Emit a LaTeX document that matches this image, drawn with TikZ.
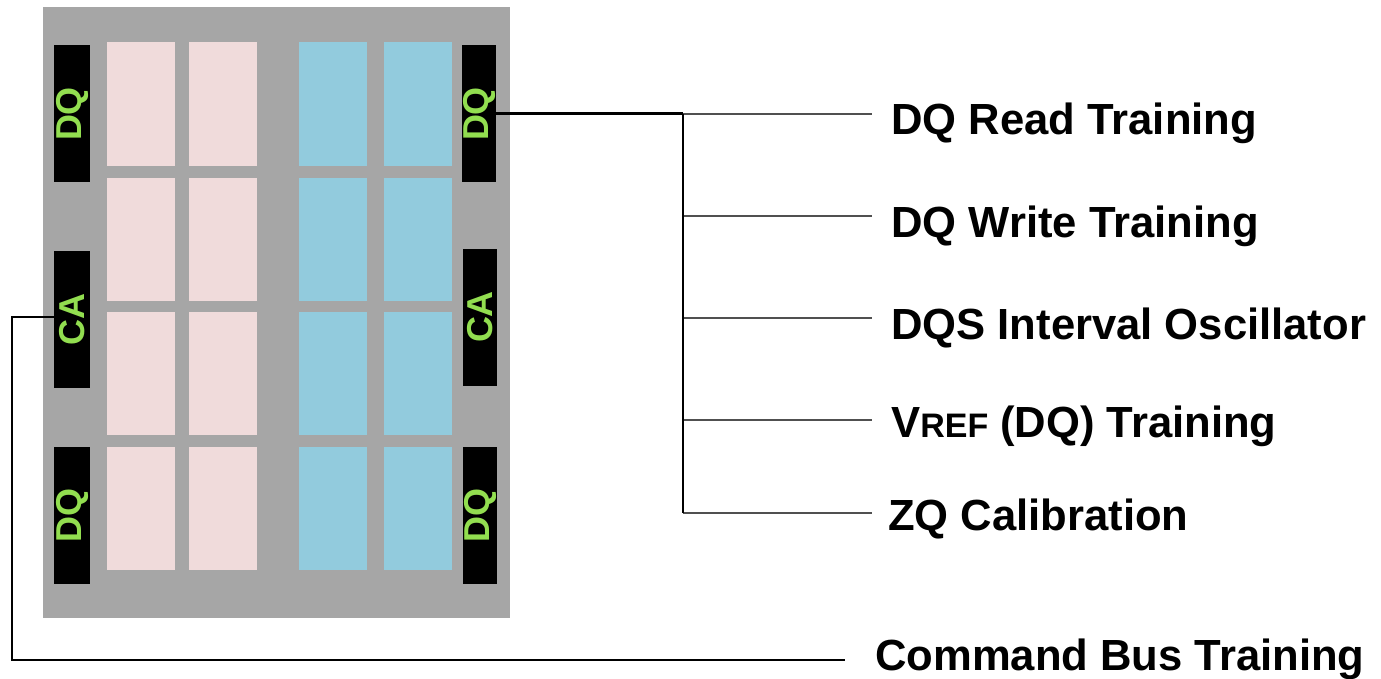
\documentclass[tikz,border=0pt]{standalone}
\usepackage{fontspec}
\setmainfont{Liberation Sans}
\definecolor{chipgray}{RGB}{166,166,166}
\definecolor{pinkblk}{RGB}{240,219,219}
\definecolor{blueblk}{RGB}{146,203,221}
\definecolor{padgreen}{RGB}{146,222,80}
\definecolor{wiregray}{RGB}{80,80,80}
\begin{document}
\begin{tikzpicture}[x=1pt,y=-1pt,
  chip/.style={fill=chipgray, draw=none, inner sep=0pt},
  blkA/.style={fill=pinkblk, draw=none, minimum width=68pt, minimum height=123.5pt, inner sep=0pt},
  blkB/.style={fill=blueblk, draw=none, minimum width=68pt, minimum height=123.5pt, inner sep=0pt},
  pad/.style={fill=black, text=padgreen, rotate=90, minimum width=137pt, minimum height=36pt, inner sep=0pt, font=\fontsize{36}{36}\selectfont\bfseries},
  lbl/.style={anchor=base west, inner sep=0pt, font=\fontsize{43.6}{50}\selectfont\bfseries},
  wire/.style={line width=3pt, black},
  branch/.style={line width=2.6pt, draw=wiregray}]
\useasboundingbox (0,0) rectangle (1381,679);
\fill[white] (0,0) rectangle (1381,679);
% chip body
\node[chip, minimum width=467pt, minimum height=611pt] (chip) at (276.5,312.5) {};
% memory blocks
\foreach \r/\y in {1/104, 2/239.7, 3/373.3, 4/508.3}{
  \node[blkA] (pa\r) at (140.7,\y) {};
  \node[blkA] (pb\r) at (223.3,\y) {};
  \node[blkB] (ba\r) at (333.2,\y) {};
  \node[blkB] (bb\r) at (417.5,\y) {};
}
% pads
\node[pad] (LDQ1) at (72,114) {DQ};
\node[pad] (LCA)  at (72,319) {CA};
\node[pad] (LDQ2) at (72,515) {DQ};
\node[pad, minimum height=34pt] (RDQ1) at (479,114) {DQ};
\node[pad, minimum height=34pt] (RCA)  at (480,317) {CA};
\node[pad, minimum height=34pt] (RDQ2) at (480,515) {DQ};
% junction and free ends
\coordinate (j0) at (683,114);
\coordinate (j1) at (683,216);
\coordinate (j2) at (683,318);
\coordinate (j3) at (683,420);
\coordinate (j4) at (683,513);
\coordinate (e0) at (872,114);
\coordinate (e1) at (872,216);
\coordinate (e2) at (872,318);
\coordinate (e3) at (872,420);
\coordinate (e4) at (872,513);
\coordinate (c1) at (12,317);
\coordinate (c2) at (12,660);
\coordinate (c3) at (845,660);
% connectors
\foreach \i in {0,...,4}{\draw[branch] (j\i) -- (e\i);}
\draw[wire] (RDQ1.south) -- (j0);
\draw[line width=2.8pt, black] (j0) -- (j4);
\draw[line width=2.6pt, black] ([yshift=2pt]LCA.north) -- (c1) -- (c2) -- (c3);
% labels
\node[lbl] (t0) at (891,135) {DQ Read Training};
\node[lbl] (t1) at (891,237) {DQ Write Training};
\node[lbl] (t2) at (891,339) {DQS Interval Oscillator};
\node[lbl] (t3) at (891,437) {V{\fontsize{34}{40}\selectfont REF} (DQ) Training};
\node[lbl] (t4) at (888,530) {ZQ Calibration};
\node[lbl] (t5) at (875,670) {Command Bus Training};
\end{tikzpicture}
\end{document}
